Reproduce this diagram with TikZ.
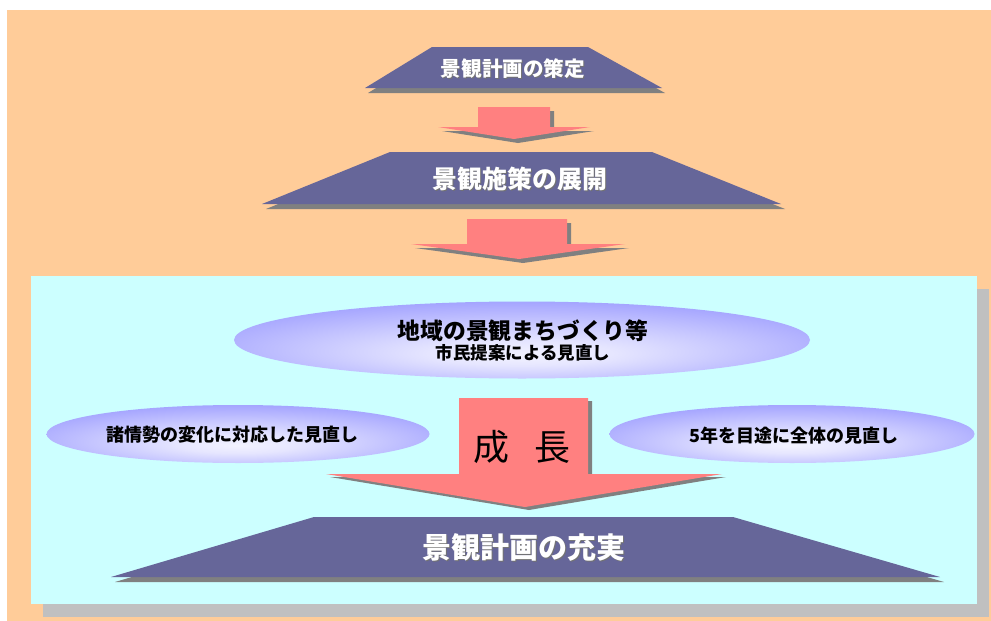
\documentclass[tikz,border=0pt]{standalone}
\usepackage{fontspec}
\newfontfamily\jp{Noto Sans CJK JP}
\usetikzlibrary{shapes.geometric}
\definecolor{bgorange}{HTML}{FFCC99}
\definecolor{boxcyan}{HTML}{CCFFFF}
\definecolor{boxshadow}{HTML}{C0C0C0}
\definecolor{trapcol}{HTML}{666699}
\definecolor{shadowgray}{HTML}{808080}
\definecolor{arrowred}{HTML}{FF8080}
\definecolor{ellblue}{HTML}{9999FF}
\pgfdeclareradialshading{ellshading}{\pgfpoint{0bp}{-10bp}}{color(0bp)=(white!88!ellblue); color(8bp)=(white!75!ellblue); color(34bp)=(ellblue); color(60bp)=(ellblue)}
\begin{document}
\begin{tikzpicture}[x=1pt,y=-1pt,
  trapfill/.style={fill=trapcol},
  shadowfill/.style={fill=shadowgray},
  arrowfill/.style={fill=arrowred},
  ellnode/.style={ellipse, shading=ellshading, inner sep=0pt, draw=none},
  wtext/.style={text=white, font=\jp\bfseries, inner sep=0pt},
  stext/.style={text=black!55, font=\jp\bfseries, inner sep=0pt},
  btext/.style={text=black, font=\jp\bfseries, inner sep=0pt}]
\useasboundingbox (0,0) rectangle (991,621);
\fill[white] (0,0) rectangle (991,621);
\fill[bgorange] (7,10) rectangle (991,621);
% cyan panel with shadow
\fill[boxshadow] (43,289) rectangle (989,617);
\fill[boxcyan] (31,276) rectangle (977,604);

% trapezoid 1
\fill[shadowfill, shift={(3,5)}] (432,47) -- (588,47) -- (662,88) -- (365,88) -- cycle;
\fill[trapfill] (432,47) -- (588,47) -- (662,88) -- (365,88) -- cycle;
\node[stext, font=\jp\bfseries\fontsize{20.6}{24}\selectfont] (t1s) at (514,70) {景観計画の策定};
\node[wtext, font=\jp\bfseries\fontsize{20.6}{24}\selectfont] (t1) at (513,69) {景観計画の策定};

% arrow 1
\fill[shadowfill, shift={(4,4)}] (478,107) -- (550,107) -- (550,127) -- (590,127) -- (514,139) -- (438,127) -- (478,127) -- cycle;
\fill[arrowfill] (478,107) -- (550,107) -- (550,127) -- (590,127) -- (514,139) -- (438,127) -- (478,127) -- cycle;

% trapezoid 2
\fill[shadowfill, shift={(4,5)}] (390,152) -- (652,152) -- (781,204) -- (262,204) -- cycle;
\fill[trapfill] (390,152) -- (652,152) -- (781,204) -- (262,204) -- cycle;
\node[stext, font=\jp\bfseries\fontsize{24.9}{28}\selectfont] (t2s) at (521,180) {景観施策の展開};
\node[wtext, font=\jp\bfseries\fontsize{24.9}{28}\selectfont] (t2) at (520,179) {景観施策の展開};

% arrow 2
\fill[shadowfill, shift={(4,4)}] (467,219) -- (567,219) -- (567,244) -- (625,244) -- (519,259) -- (411,244) -- (467,244) -- cycle;
\fill[arrowfill] (467,219) -- (567,219) -- (567,244) -- (625,244) -- (519,259) -- (411,244) -- (467,244) -- cycle;

% ellipses
\node[ellnode, minimum width=576pt, minimum height=77pt] (e1) at (522,340) {};
\node[btext, font=\jp\bfseries\fontsize{22.8}{26}\selectfont] (e1a) at (523,331) {地域の景観まちづくり等};
\node[btext, font=\jp\bfseries\fontsize{17.5}{20}\selectfont] (e1b) at (523,353) {市民提案による見直し};

\node[ellnode, minimum width=383pt, minimum height=58pt] (e2) at (238,434) {};
\node[btext, font=\jp\bfseries\fontsize{18}{21}\selectfont] (e2a) at (232,435) {諸情勢の変化に対応した見直し};

\node[ellnode, minimum width=365pt, minimum height=58pt] (e3) at (792,434) {};
\node[btext, font=\jp\bfseries\fontsize{18}{21}\selectfont] (e3a) at (794,436) {5年を目途に全体の見直し};

% big arrow
\fill[shadowfill, shift={(4,3)}] (459,398) -- (588,398) -- (588,474) -- (722,474) -- (525,507) -- (326,474) -- (459,474) -- cycle;
\fill[arrowfill] (459,398) -- (588,398) -- (588,474) -- (722,474) -- (525,507) -- (326,474) -- (459,474) -- cycle;
\node[text=black, font=\jp\fontsize{36}{40}\selectfont, inner sep=0pt] (g) at (522,447) {成\hspace{0.72em}長};

% trapezoid 3
\fill[shadowfill, shift={(4,5)}] (314,517) -- (733,517) -- (940,577) -- (111,577) -- cycle;
\fill[trapfill] (314,517) -- (733,517) -- (940,577) -- (111,577) -- cycle;
\node[stext, font=\jp\bfseries\fontsize{29}{33}\selectfont] (t3s) at (525,548) {景観計画の充実};
\node[wtext, font=\jp\bfseries\fontsize{29}{33}\selectfont] (t3) at (524,547) {景観計画の充実};
\end{tikzpicture}
\end{document}
